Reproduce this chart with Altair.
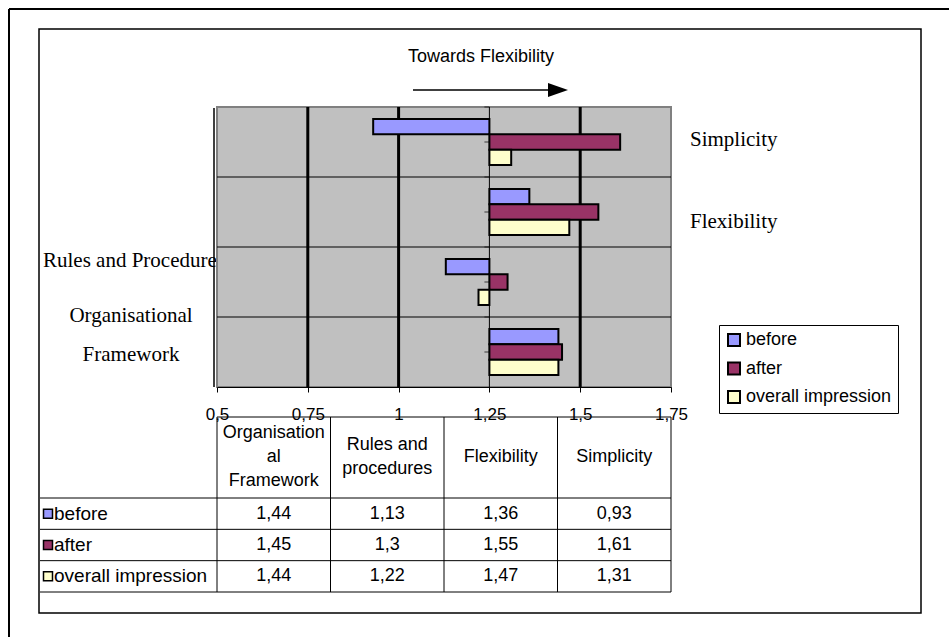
import altair as alt
import pandas as pd

# ---- data -------------------------------------------------------------
categories = ["Organisational Framework", "Rules and procedures", "Flexibility", "Simplicity"]
header_labels = ["Organisation\nal\nFramework", "Rules and\nprocedures", "Flexibility", "Simplicity"]
series = ["before", "after", "overall impression"]
before = [1.44, 1.13, 1.36, 0.93]
after = [1.45, 1.30, 1.55, 1.61]
overall = [1.44, 1.22, 1.47, 1.31]
colors = ["#9999FF", "#993366", "#FFFFCC"]
x_ticks = [0.5, 0.75, 1.0, 1.25, 1.5, 1.75]
thick_grid = [0.75, 1.0, 1.5]
crossing = 1.25
title_text = "Towards Flexibility"

# plot area size (pixels)
W, H = 454, 280

top_order = list(reversed(categories))

rows = []
for name, vals in zip(series, [before, after, overall]):
    for cat, v in zip(categories, vals):
        rows.append({"category": cat, "series": name, "value": v,
                     "label": f"{v:g}".replace(".", ",")})
df = pd.DataFrame(rows)

one = pd.DataFrame({"k": [0]})

# ---- shared scales / axes for the bar panel --------------------------
xscale = alt.Scale(domain=[0.5, 1.75], nice=False, zero=False)
xaxis = alt.Axis(values=x_ticks, grid=False, title=None,
                 labelExpr="replace(format(datum.value, '~g'), '.', ',')",
                 labelFont="Liberation Sans", labelFontSize=17, labelColor="black",
                 labelFlush=False, labelOverlap=False, labelPadding=14,
                 domainColor="black", domainWidth=1, tickColor="black", tickSize=5,
                 zindex=1)
yscale = alt.Scale(type="band", domain=top_order, paddingInner=0, paddingOuter=0)


def xq():
    return alt.X("value:Q", scale=xscale, axis=xaxis)


def ycat(band_position=None):
    if band_position is None:
        return alt.Y("category:N", scale=yscale, axis=None)
    return alt.Y("category:N", scale=yscale, axis=None, bandPosition=band_position)


serif = dict(font="Liberation Serif", fontSize=21, color="black")

rules_label = alt.Chart(pd.DataFrame({"category": ["Rules and procedures"],
                                      "txt": ["Rules and Procedures"]})).mark_text(
    align="left", baseline="alphabetic", dy=-15, **serif
).encode(x=alt.value(-174), y=ycat(), text="txt:N")

plot_bg = alt.Chart(one).mark_rect(fill="#C0C0C0", stroke="#808080", strokeWidth=2).encode(
    x=alt.value(0), x2=alt.value(W), y=alt.value(0), y2=alt.value(H))

left_edge = alt.Chart(one).mark_rule(color="black", strokeWidth=1.5).encode(
    x=alt.value(-3), y=alt.value(1), y2=alt.value(H))

grid = alt.Chart(pd.DataFrame({"value": thick_grid})).mark_rule(
    color="black", strokeWidth=3).encode(x=xq())

cross_line = alt.Chart(pd.DataFrame({"value": [crossing]})).mark_rule(
    color="black", strokeWidth=1).encode(x=xq())

separators = alt.Chart(pd.DataFrame({"category": top_order[1:]})).mark_rule(
    color="black", strokeWidth=1).encode(y=ycat(0))

cat_df = pd.DataFrame({"category": top_order, "value": [crossing] * 4})
ticks_mid = alt.Chart(cat_df).mark_tick(
    orient="horizontal", size=5, thickness=1, color="black", xOffset=-2.5
).encode(x=xq(), y=ycat())
ticks_edge = alt.Chart(cat_df).mark_tick(
    orient="horizontal", size=5, thickness=1, color="black", xOffset=-2.5
).encode(x=xq(), y=ycat(0))

bars = alt.Chart(df).mark_bar(stroke="black", strokeWidth=2).encode(
    x=xq(),
    x2=alt.datum(crossing),
    y=ycat(),
    yOffset=alt.YOffset("series:N", sort=series,
                        scale=alt.Scale(domain=series, paddingInner=0, paddingOuter=0.79)),
    color=alt.Color("series:N", sort=series,
                    scale=alt.Scale(domain=series, range=colors),
                    legend=alt.Legend(orient="none", legendX=502, legendY=218, title=None,
                                      symbolType="square", symbolSize=144,
                                      symbolStrokeColor="black", symbolStrokeWidth=2,
                                      symbolOpacity=1,
                                      labelFont="Liberation Sans", labelFontSize=18,
                                      labelColor="black", labelOffset=3, rowPadding=8.5,
                                      padding=6, strokeColor="black", fillColor="white")),
)

simp_label = alt.Chart(pd.DataFrame({"category": ["Simplicity"], "txt": ["Simplicity"]})).mark_text(
    align="left", baseline="alphabetic", dy=4, **serif
).encode(x=alt.value(473), y=ycat(), text="txt:N")

flex_label = alt.Chart(pd.DataFrame({"category": ["Flexibility"], "txt": ["Flexibility"]})).mark_text(
    align="left", baseline="alphabetic", dy=16, **serif
).encode(x=alt.value(473), y=ycat(), text="txt:N")

org_label = alt.Chart(pd.DataFrame({"category": ["Organisational Framework"],
                                    "txt": ["Organisational\nFramework"]})).mark_text(
    align="center", baseline="alphabetic", dy=-30, lineBreak="\n", lineHeight=39, **serif
).encode(x=alt.value(-86), y=ycat(), text="txt:N")

bar_panel = alt.layer(rules_label, plot_bg, left_edge, grid, cross_line, separators,
                      ticks_mid, ticks_edge, bars, simp_label, flex_label, org_label)

# ---- data table under the bars ----------------------------------------
tx = alt.Scale(type="band", domain=categories, range=[0, W], paddingInner=0, paddingOuter=0)
ty = alt.Scale(type="band", domain=series, range=[391, 485], paddingInner=0, paddingOuter=0)
sans = dict(font="Liberation Sans", fontSize=18, color="black")
HEAD_LH = 24


def tcol(bp=None):
    if bp is None:
        return alt.X("category:N", scale=tx, axis=None)
    return alt.X("category:N", scale=tx, axis=None, bandPosition=bp)


def trow(bp=None):
    if bp is None:
        return alt.Y("series:N", scale=ty, axis=None)
    return alt.Y("series:N", scale=ty, axis=None, bandPosition=bp)


cells = alt.Chart(df).mark_text(align="center", baseline="middle", **sans).encode(
    x=tcol(), y=trow(), text="label:N")

# column headers, vertically centred in the header row whatever their line count
head_df = pd.DataFrame({"category": categories, "header": header_labels})
head_df["lines"] = head_df["header"].str.count("\n") + 1
header_layers = []
for n in sorted(head_df["lines"].unique()):
    header_layers.append(
        alt.Chart(head_df[head_df["lines"] == n]).mark_text(
            align="center", baseline="middle", lineBreak="\n", lineHeight=HEAD_LH,
            dy=-(n - 1) * HEAD_LH / 2, **sans
        ).encode(x=tcol(), y=alt.value(350), text="header:N")
    )

ser_df = pd.DataFrame({"series": series})
row_marks = alt.Chart(ser_df).mark_square(size=81, opacity=1, stroke="black", strokeWidth=1.5).encode(
    x=alt.value(-169), y=trow(),
    fill=alt.Fill("series:N", scale=alt.Scale(domain=series, range=colors), legend=None))
row_text = alt.Chart(ser_df).mark_text(align="left", baseline="middle",
                                       font="Liberation Sans", fontSize=19, color="black").encode(
    x=alt.value(-163), y=trow(), text="series:N")

vlines = alt.Chart(pd.DataFrame({"category": categories})).mark_rule(
    color="black", strokeWidth=1).encode(x=tcol(0), y=alt.value(310), y2=alt.value(485))
vline_end = alt.Chart(pd.DataFrame({"category": categories[-1:]})).mark_rule(
    color="black", strokeWidth=1).encode(x=tcol(1), y=alt.value(310), y2=alt.value(485))
hlines = alt.Chart(ser_df).mark_rule(color="black", strokeWidth=1).encode(
    y=trow(0), x=alt.value(-177), x2=alt.value(W))
hline_end = alt.Chart(pd.DataFrame({"series": series[-1:]})).mark_rule(
    color="black", strokeWidth=1).encode(y=trow(1), x=alt.value(-177), x2=alt.value(W))
head_top = alt.Chart(one).mark_rule(color="black", strokeWidth=1).encode(
    x=alt.value(0), x2=alt.value(W), y=alt.value(310))

table = alt.layer(vlines, vline_end, hlines, hline_end, head_top,
                  *header_layers, cells, row_marks, row_text)

# ---- frames, heading and arrow ----------------------------------------
outer_left = alt.Chart(one).mark_rule(color="black", strokeWidth=2).encode(
    x=alt.value(-208), y=alt.value(-98), y2=alt.value(530))
outer_top = alt.Chart(one).mark_rule(color="black", strokeWidth=2).encode(
    x=alt.value(-208), x2=alt.value(732), y=alt.value(-98))
inner_frame = alt.Chart(one).mark_rect(fillOpacity=0, stroke="black", strokeWidth=1.5).encode(
    x=alt.value(-178), x2=alt.value(704), y=alt.value(-78), y2=alt.value(506))
heading = alt.Chart(one).mark_text(font="Liberation Sans", fontSize=18, color="black",
                                   align="center", baseline="alphabetic").encode(
    x=alt.value(264), y=alt.value(-45), text=alt.value(title_text))
arrow_line = alt.Chart(one).mark_rule(color="black", strokeWidth=1.5).encode(
    x=alt.value(196), x2=alt.value(333), y=alt.value(-17))
arrow_head = alt.Chart(one).mark_point(shape="M-1,-0.7L1,0L-1,0.7Z", filled=True,
                                       color="black", opacity=1, size=400).encode(
    x=alt.value(341), y=alt.value(-17))

chart = alt.layer(
    outer_left, outer_top, inner_frame, heading, arrow_line, arrow_head,
    bar_panel, table
).resolve_scale(
    x="independent", y="independent"
).properties(
    width=W, height=H,
    autosize=alt.AutoSizeParams(type="none"),
    padding={"left": 217, "top": 107, "right": 278, "bottom": 250},
).configure_view(strokeWidth=0)

chart.save("out.html", embed_options={"renderer": "svg", "actions": False})
